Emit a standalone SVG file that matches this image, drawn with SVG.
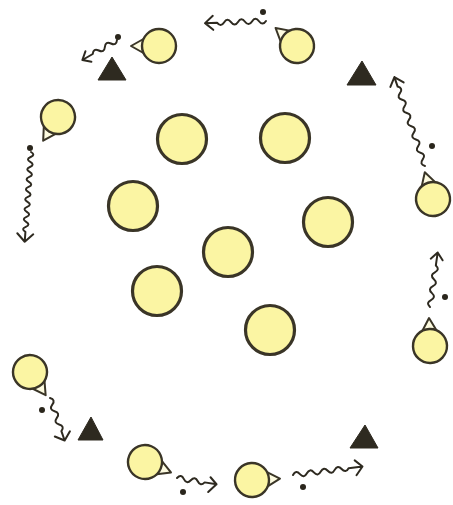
<svg xmlns="http://www.w3.org/2000/svg" xmlns:xlink="http://www.w3.org/1999/xlink" width="453" height="505" viewBox="0 0 453 505">
<style>
.big{fill:#fbf5a3;stroke:#3a3527;stroke-width:3.2}
.pl{fill:#fbf5a3;stroke:#3a3527;stroke-width:2.4}
.nose{fill:#fdfbe0;stroke:#3a3527;stroke-width:2;stroke-linejoin:round}
.cone{fill:#2e2a20;stroke:#2e2a20;stroke-width:1;stroke-linejoin:round}
.ball{fill:#2a261c}
.drib{fill:none;stroke:#2e2a20;stroke-width:2;stroke-linecap:round;stroke-linejoin:round}
</style>
<defs>
<g id="player">
<polygon class="nose" points="12,-9 28,0 12,9"/>
<circle class="pl" r="17"/>
</g>
</defs>
<rect width="453" height="505" fill="#ffffff"/>
<g id="center-players">
<circle id="c1" class="big" cx="182" cy="139" r="24.5"/>
<circle id="c2" class="big" cx="285" cy="138" r="24.5"/>
<circle id="c3" class="big" cx="133" cy="206" r="24.5"/>
<circle id="c4" class="big" cx="328" cy="222" r="24.5"/>
<circle id="c5" class="big" cx="228" cy="252" r="24.5"/>
<circle id="c6" class="big" cx="157" cy="291" r="24.5"/>
<circle id="c7" class="big" cx="270" cy="330" r="24.5"/>
</g>
<g id="cones">
<polygon id="cone1" class="cone" points="112,57 98,80 126,80"/>
<polygon id="cone2" class="cone" points="362,61 347,85 376,85"/>
<polygon id="cone3" class="cone" points="91,417 78,440 103,440"/>
<polygon id="cone4" class="cone" points="365,425 350,448 378,448"/>
</g>
<g id="outer-players">
<use id="p1" xlink:href="#player" href="#player" transform="translate(159,46) rotate(180)"/>
<use id="p2" xlink:href="#player" href="#player" transform="translate(297,46) rotate(-140)"/>
<use id="p3" xlink:href="#player" href="#player" transform="translate(433,199) rotate(-107)"/>
<use id="p4" xlink:href="#player" href="#player" transform="translate(430,346) rotate(-92)"/>
<use id="p5" xlink:href="#player" href="#player" transform="translate(58,117) rotate(122)"/>
<use id="p6" xlink:href="#player" href="#player" transform="translate(30,372) rotate(56)"/>
<use id="p7" xlink:href="#player" href="#player" transform="translate(145,462) rotate(22)"/>
<use id="p8" xlink:href="#player" href="#player" transform="translate(252,480) rotate(-3)"/>
</g>
<g id="balls">
<circle class="ball" cx="118" cy="37" r="3"/>
<circle class="ball" cx="263" cy="12" r="3"/>
<circle class="ball" cx="432" cy="146" r="3"/>
<circle class="ball" cx="445" cy="297" r="3"/>
<circle class="ball" cx="30" cy="148" r="3"/>
<circle class="ball" cx="42" cy="410" r="3"/>
<circle class="ball" cx="183" cy="492" r="3"/>
<circle class="ball" cx="303" cy="487" r="3"/>
</g>
<g id="connectors">
<path class="drib" transform="translate(117,40) rotate(150)" d="M0,0 q3.5,-5 7,0 t7,0 t7,0 t7,0 l12,0 M33,-6 L40,0 L33,6"/>
<path class="drib" transform="translate(266,21) rotate(178)" d="M0,0 q3.5,-5 7,0 t7,0 t7,0 t7,0 t7,0 t7,0 t7,0 l12,0 M53,-7 L61,0 L53,7"/>
<path class="drib" transform="translate(425,166) rotate(-109)" d="M0,0 q3.5,-5 7,0 t7,0 t7,0 t7,0 t7,0 t7,0 t7,0 t7,0 t7,0 t7,0 t7,0 t7,0 l10,0 M86,-7 L94,0 L86,7"/>
<path class="drib" transform="translate(430,307) rotate(-82)" d="M0,0 q3.5,-5 7,0 t7,0 t7,0 t7,0 t7,0 t7,0 l13,0 M48,-6 L55,0 L48,6"/>
<path class="drib" transform="translate(31,152) rotate(94)" d="M0,0 q2.5,-5 5,0 t5,0 t5,0 t5,0 t5,0 t5,0 t5,0 t5,0 t5,0 t5,0 t5,0 t5,0 t5,0 t5,0 t5,0 t5,0 l10,0 M82,-8 L90,0 L82,8"/>
<path class="drib" transform="translate(50,398) rotate(71)" d="M0,0 q3.5,-5 7,0 t7,0 t7,0 t7,0 t7,0 l10,0 M38,-8 L45,0 L38,8"/>
<path class="drib" transform="translate(177,478) rotate(9)" d="M0,0 q3.5,-5 7,0 t7,0 t7,0 t7,0 l12,0 M33,-6 L40,0 L33,9"/>
<path class="drib" transform="translate(293,475) rotate(-7)" d="M0,0 q3.5,-5 7,0 t7,0 t7,0 t7,0 t7,0 t7,0 t7,0 t7,0 l14,0 M63,-7 L70,0 L63,8"/>
</g>
</svg>
